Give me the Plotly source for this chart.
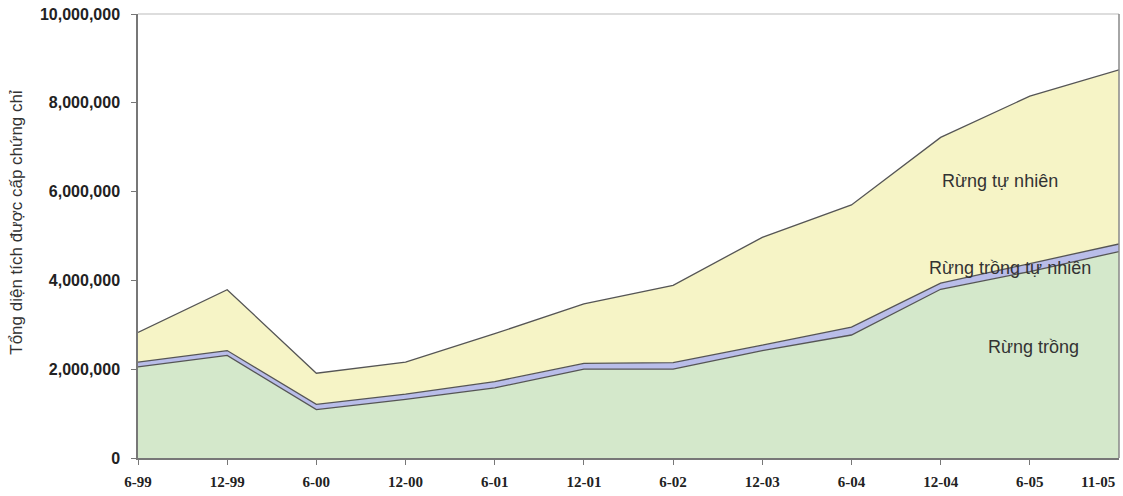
import plotly.graph_objects as go

periods = ["6-99", "12-99", "6-00", "12-00", "6-01", "12-01", "6-02", "12-03", "6-04", "12-04", "6-05", "11-05"]
# layer thicknesses (hectares)
rung_trong = [2050000, 2310000, 1090000, 1320000, 1580000, 2000000, 2000000, 2420000, 2770000, 3800000, 4200000, 4650000]
rung_trong_tu_nhien = [110000, 110000, 120000, 120000, 140000, 130000, 150000, 120000, 180000, 140000, 180000, 170000]
rung_tu_nhien = [670000, 1370000, 700000, 720000, 1080000, 1340000, 1740000, 2430000, 2750000, 3280000, 3770000, 3920000]
y_ticks = [0, 2000000, 4000000, 6000000, 8000000, 10000000]

labels = ["Rừng trồng", "Rừng trồng tự nhiên", "Rừng tự nhiên"]
fills = ["#d4e8cb", "#b9bde9", "#f6f4c6"]
line_col = "#555555"

fig = go.Figure()
for name, vals, col in zip(labels, [rung_trong, rung_trong_tu_nhien, rung_tu_nhien], fills):
    fig.add_trace(go.Scatter(
        x=periods, y=vals, name=name, mode="lines", stackgroup="one",
        fillcolor=col, line=dict(color=line_col, width=1.3), hoverinfo="skip"))

fig.update_layout(
    width=1123, height=496,
    margin=dict(l=138, r=4, t=14, b=38),
    paper_bgcolor="white", plot_bgcolor="white",
    showlegend=False,
    font=dict(family="Liberation Sans, Arial, sans-serif", color="#222"),
)
xfont = dict(family="Liberation Serif, Times New Roman, serif", size=15, color="#222", weight="bold")
yfont = dict(family="Liberation Sans, Arial, sans-serif", size=16, color="#222", weight="bold")
fig.update_xaxes(
    type="category", range=[0, len(periods) - 1], automargin=False,
    tickvals=periods[:-1], ticktext=periods[:-1],
    showgrid=False, showline=True, linecolor="#777", linewidth=1.5,
    ticks="outside", ticklen=5, tickcolor="#777", ticklabelstandoff=4,
    tickfont=xfont, zeroline=False,
)
fig.update_yaxes(
    range=[0, 10000000], tickvals=y_ticks, tickformat=",d",
    automargin=False, showgrid=False, showline=True, linecolor="#777", linewidth=1.5,
    ticks="outside", ticklen=5, tickcolor="#777", ticklabelstandoff=8,
    tickfont=yfont, zeroline=False,
)
# light frame on top and right
fig.add_shape(type="line", xref="paper", yref="paper", x0=0, x1=1, y0=1, y1=1,
              line=dict(color="#bbbbbb", width=1))
fig.add_shape(type="line", xref="paper", yref="paper", x0=1, x1=1, y0=0, y1=1,
              line=dict(color="#888888", width=1.5))

# last x tick label, kept inside the picture
fig.add_annotation(x=periods[-1], y=0, yref="paper", text=periods[-1], showarrow=False,
                   xanchor="right", yanchor="middle", xshift=-2, yshift=-24, font=xfont)

# y axis title
fig.add_annotation(xref="paper", yref="paper", x=-0.1233, y=0.53, text="Tổng diện tích được cấp chứng chỉ",
                   textangle=-90, showarrow=False, xanchor="center", yanchor="middle",
                   font=dict(family="Liberation Sans, Arial, sans-serif", size=17, color="#333"))

ann_font = dict(family="Liberation Sans, Arial, sans-serif", size=18, color="#333")
fig.add_annotation(x=9.67, y=6230000, text="Rừng tự nhiên", showarrow=False, font=ann_font)
fig.add_annotation(x=9.78, y=4270000, text="Rừng trồng tự nhiên", showarrow=False, font=ann_font)
fig.add_annotation(x=10.04, y=2500000, text="Rừng trồng", showarrow=False, font=ann_font)

# remove the browser's default page margin so the figure fills the window exactly
fig.write_html("out.html", config={"displayModeBar": False},
               post_script="document.body.style.margin='0px';")
